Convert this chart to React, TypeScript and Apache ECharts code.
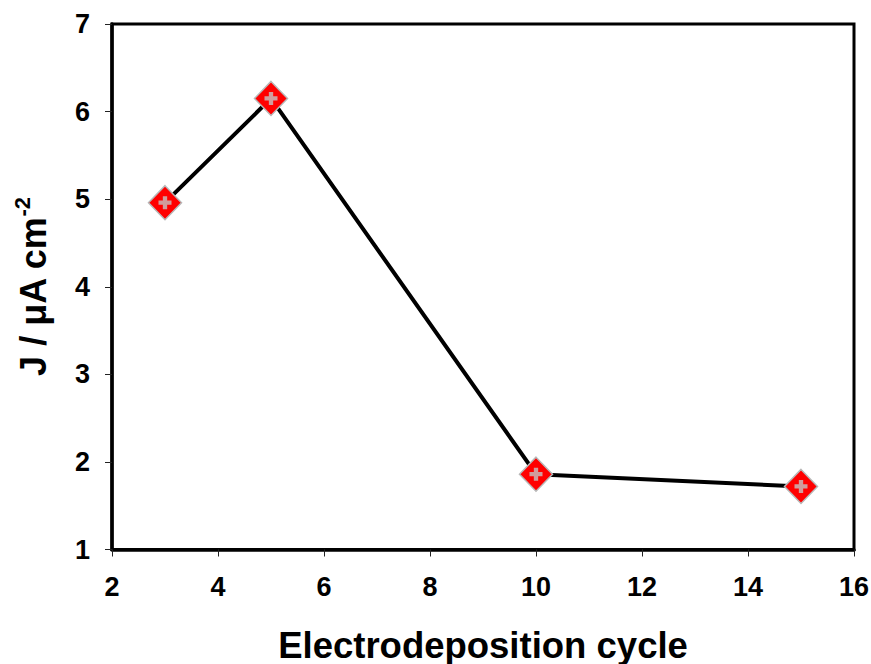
import React, { useEffect, useRef } from "react";
import * as echarts from "echarts";

const cycles = [3, 5, 10, 15];
const currentDensity = [4.96, 6.15, 1.86, 1.72];
const xTicks = { min: 2, max: 16, interval: 2 };
const yTicks = { min: 1, max: 7, interval: 1 };
const xTitle = "Electrodeposition cycle";
const yTitleMain = "J / μA cm";
const yTitleSup = "-2";

export default function App() {
  const ref = useRef<HTMLDivElement>(null);
  useEffect(() => {
    if (!ref.current) return;
    const chart = echarts.init(ref.current, null, { renderer: "svg" });
    const pts = cycles.map((c, i) => [c, currentDensity[i]]);
    const font = "'Liberation Sans', Arial, sans-serif";
    chart.setOption({
      animation: false,
      backgroundColor: "#fff",
      grid: {
        left: 112,
        right: 17,
        top: 24,
        bottom: 114.5,
        outerBoundsMode: "none",
        containLabel: false,
        show: true,
        borderColor: "#000",
        borderWidth: 3,
      },
      xAxis: {
        type: "value",
        min: xTicks.min,
        max: xTicks.max,
        interval: xTicks.interval,
        name: xTitle,
        nameLocation: "middle",
        nameGap: 77,
        nameTextStyle: { fontFamily: font, fontWeight: "bold", fontSize: 36.5, color: "#000" },
        axisLine: { show: true, lineStyle: { color: "#000", width: 3.5 } },
        axisTick: { show: true, inside: false, length: 7, lineStyle: { color: "#222", width: 1 } },
        axisLabel: { fontFamily: font, fontWeight: "bold", fontSize: 27, color: "#000", margin: 24 },
        splitLine: { show: false },
      },
      yAxis: {
        type: "value",
        min: yTicks.min,
        max: yTicks.max,
        interval: yTicks.interval,
        name: `{m|${yTitleMain}}{s|${yTitleSup}}`,
        nameLocation: "middle",
        nameGap: 61,
        nameRotate: 90,
        nameTextStyle: {
          fontFamily: font,
          fontWeight: "bold",
          color: "#000",
          rich: {
            m: { fontFamily: font, fontWeight: "bold", fontSize: 36, color: "#000", verticalAlign: "bottom", lineHeight: 40 },
            s: { fontFamily: font, fontWeight: "bold", fontSize: 22, color: "#000", verticalAlign: "top", lineHeight: 40 },
          },
        },
        axisLine: { show: true, lineStyle: { color: "#000", width: 3.5 } },
        axisTick: { show: true, inside: false, length: 7, lineStyle: { color: "#222", width: 1 } },
        axisLabel: { fontFamily: font, fontWeight: "bold", fontSize: 27, color: "#000", margin: 22 },
        splitLine: { show: false },
      },
      series: [
        {
          type: "line",
          data: pts,
          symbol: "diamond",
          symbolSize: [33, 34],
          lineStyle: { color: "#000", width: 4 },
          itemStyle: { color: "#ff0000", borderColor: "#b8b8b8", borderWidth: 1.5 },
          z: 2,
        },
        {
          type: "scatter",
          data: pts,
          symbol: "path://M4,0H8V4H12V8H8V12H4V8H0V4H4Z",
          symbolSize: 13,
          itemStyle: { color: "#c4c4c4" },
          z: 3,
          silent: true,
        },
      ],
    });
    return () => chart.dispose();
  }, []);
  return (
    <div
      ref={ref}
      style={{ position: "fixed", left: 0, top: 0, width: 871, height: 664 }}
    />
  );
}
